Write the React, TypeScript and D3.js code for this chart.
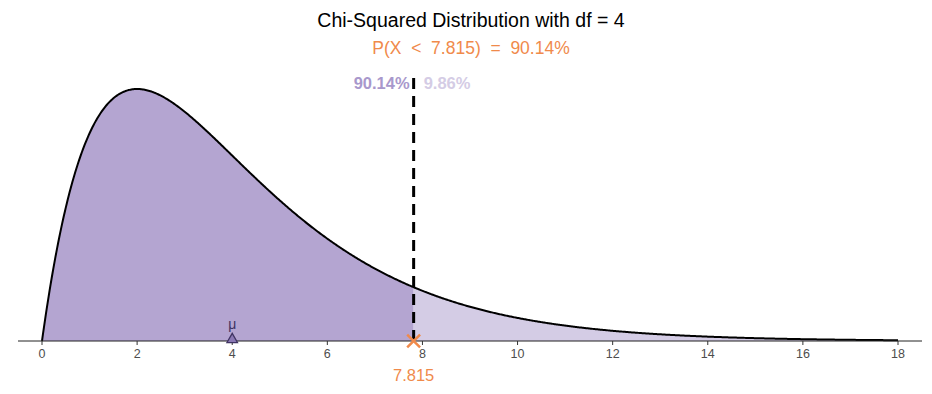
import React from "react";
import * as d3 from "d3";

// distribution parameters
const DF = 4;
const CRITICAL = 7.815;
const X_DOMAIN: [number, number] = [0, 18];
const X_TICKS = [0, 2, 4, 6, 8, 10, 12, 14, 16, 18];
const LOWER_PCT = "90.14%";
const UPPER_PCT = "9.86%";

const W = 932;
const H = 394;

// chi-squared density
const chiPdf = (x: number, k: number) => {
  if (x <= 0) return 0;
  const half = k / 2;
  const gamma = (n: number): number =>
    n === 1 ? 1 : n === 0.5 ? Math.sqrt(Math.PI) : (n - 1) * gamma(n - 1);
  return (Math.pow(x, half - 1) * Math.exp(-x / 2)) / (Math.pow(2, half) * gamma(half));
};

const App: React.FC = () => {
  const x = d3.scaleLinear().domain(X_DOMAIN).range([42, 898]);
  const y = d3.scaleLinear().domain([0, chiPdf(2, DF)]).range([341, 89]);

  const xs = d3.range(0, 18.0001, 0.02);
  const pts = xs.map((v) => ({ x: v, y: chiPdf(v, DF) }));
  const cut = { x: CRITICAL, y: chiPdf(CRITICAL, DF) };
  const lowPts = pts.filter((p) => p.x <= CRITICAL).concat([cut]);
  const highPts = [cut].concat(pts.filter((p) => p.x > CRITICAL));

  const area = d3
    .area<{ x: number; y: number }>()
    .x((d) => x(d.x))
    .y0(y(0))
    .y1((d) => y(d.y));
  const line = d3
    .line<{ x: number; y: number }>()
    .x((d) => x(d.x))
    .y((d) => y(d.y));

  const cx = x(CRITICAL);
  const base = y(0);
  const mu = x(DF);
  const font = "Liberation Sans, Arial, sans-serif";

  return (
    <svg width={W} height={H} style={{ position: "absolute", left: 0, top: 0, background: "#fff" }} fontFamily={font}>
      <path d={area(lowPts) ?? ""} fill="#b4a5d1" />
      <path d={area(highPts) ?? ""} fill="#d4cce5" />
      <path d={line(pts) ?? ""} fill="none" stroke="#000" strokeWidth={2} />

      {/* axis */}
      <line x1={18} x2={922} y1={base} y2={base} stroke="#222" strokeWidth={1} />
      {X_TICKS.map((t) => (
        <g key={t} transform={`translate(${x(t)},${base})`}>
          <line y1={0} y2={4} stroke="#333" />
          <text y={17} textAnchor="middle" fontSize={12.5} fill="#4d4d4d">
            {t}
          </text>
        </g>
      ))}

      {/* critical value line */}
      <path d={`M${cx},${base} L${cx},76`} stroke="#000" strokeWidth={3} strokeDasharray="11,7" />

      {/* mean marker */}
      <path
        d={d3.symbol(d3.symbolTriangle, 48)() ?? ""}
        transform={`translate(${mu},${base - 1.5})`}
        fill="#8a78b4"
        stroke="#3f3362"
        strokeWidth={1.3}
      />
      <text x={mu} y={329} textAnchor="middle" fontSize={14} fill="#3f3362">
        μ
      </text>

      {/* critical marker */}
      <path
        d={d3.symbol(d3.symbolX, 110)() ?? ""}
        transform={`translate(${cx},${base})`}
        fill="none"
        stroke="#f08a4b"
        strokeWidth={2.5}
      />
      <text x={cx} y={381} textAnchor="middle" fontSize={16.5} fill="#f08a4b">
        {CRITICAL.toFixed(3)}
      </text>

      {/* pct labels */}
      <text x={cx - 4} y={89} textAnchor="end" fontSize={16.5} fontWeight="bold" fill="#a898cc">
        {LOWER_PCT}
      </text>
      <text x={cx + 10} y={89} textAnchor="start" fontSize={16.5} fontWeight="bold" fill="#d4cce5">
        {UPPER_PCT}
      </text>

      {/* titles */}
      <text x={471} y={27} textAnchor="middle" fontSize={19.5} fill="#000">
        Chi-Squared Distribution with df = {DF}
      </text>
      <text x={471} y={54} textAnchor="middle" fontSize={17.5} fill="#f08a4b" style={{ whiteSpace: "pre" }}>
        {`P(X  <  ${CRITICAL.toFixed(3)})  =  ${LOWER_PCT}`}
      </text>
    </svg>
  );
};

export default App;
